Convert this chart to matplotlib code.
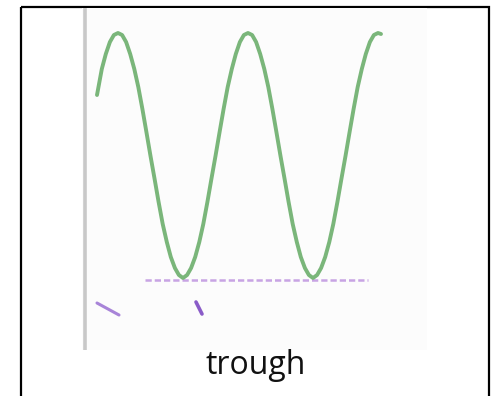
import matplotlib.pyplot as plt
from matplotlib.patches import Rectangle

# values, in image pixel coordinates (y grows downward)
wave_x = [97.0, 101.8, 105.8, 109.9, 113.9,
          118.0, 122.1, 126.1, 130.2, 134.3, 138.3, 142.4, 146.4,
          150.5, 154.6, 158.6, 162.7, 166.8, 170.8, 174.9, 178.9,
          183.0, 187.1, 191.1, 195.2, 199.3, 203.3, 207.4, 211.4,
          215.5, 219.6, 223.6, 227.7, 231.8, 235.8, 239.9, 243.9,
          248.0, 252.1, 256.1, 260.2, 264.3, 268.3, 272.4, 276.4,
          280.5, 284.6, 288.6, 292.7, 296.8, 300.8, 304.9, 308.9,
          313.0, 317.1, 321.1, 325.2, 329.3, 333.3, 337.4, 341.4,
          345.5, 349.6, 353.6, 357.7, 361.8, 365.8, 369.9, 373.9,
          378.0, 381.0]
wave_y = [95, 69, 54, 42, 35,
          33, 35, 42, 54, 69, 87, 109, 132,
          156, 179, 202, 224, 242, 257, 268, 275,
          278, 275, 268, 257, 242, 224, 202, 179,
          156, 132, 109, 87, 69, 54, 42, 35,
          33, 35, 42, 54, 69, 87, 109, 132,
          156, 179, 202, 224, 242, 257, 268, 275,
          278, 275, 268, 257, 242, 224, 202, 179,
          156, 132, 109, 87, 69, 54, 42, 35,
          33, 34]

trough_line_x = [145, 368]
trough_line_y = [279.5, 279.5]

mark1_x = [97, 119]
mark1_y = [303, 315]
mark2_x = [196, 199, 202]
mark2_y = [302, 308, 314]

label = "trough"

fig = plt.figure(figsize=(4.92, 3.96), dpi=100)
ax = fig.add_axes([0, 0, 1, 1])
ax.set_xlim(0, 492)
ax.set_ylim(396, 0)
ax.axis('off')

# outer black frame (bottom edge runs off the picture)
ax.add_patch(Rectangle((21, 7), 468, 400, fill=False, edgecolor='black', linewidth=1.6))

# the pasted picture: faint background and grey axis bar
ax.add_patch(Rectangle((82, 8), 345, 342, facecolor='#fcfcfc', edgecolor='none'))
ax.plot([84.5, 84.5], [8, 350], color='#c8c8c8', linewidth=2.6, solid_capstyle='butt')

ax.plot(wave_x, wave_y, color='#7ab67a', linewidth=2.8, solid_capstyle='round')
ax.plot(trough_line_x, trough_line_y, color='#c8a4e4', linewidth=1.8,
        linestyle=(0, (2.5, 1.2)), zorder=1)
ax.plot(mark1_x, mark1_y, color='#a884d8', linewidth=2.2, solid_capstyle='round')
ax.plot(mark2_x, mark2_y, color='#8a5cc8', linewidth=2.6, solid_capstyle='round')

ax.text(256, 366, label, fontsize=23, family='Open Sans', ha='center', va='center',
        color='#111111')

fig.savefig('out.png', dpi=100)
